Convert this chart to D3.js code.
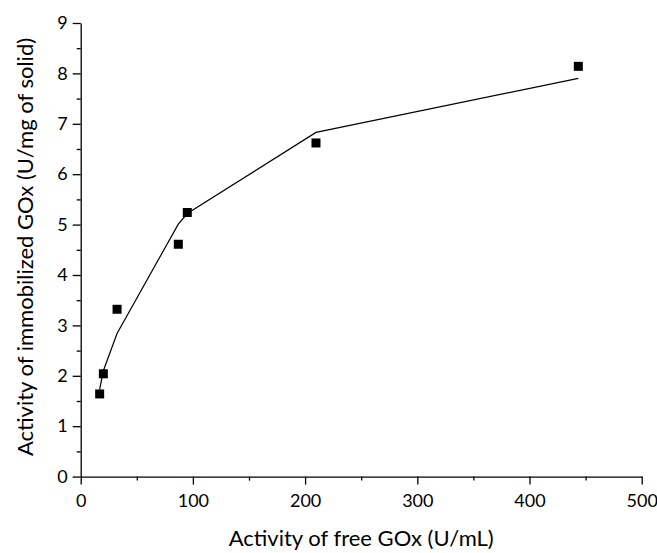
<!DOCTYPE html>
<html><head><meta charset="utf-8">
<script src="https://cdn.jsdelivr.net/npm/d3@7"></script>
<style>body{margin:0;background:#fff}svg{display:block}text{font-family:Lato,"Open Sans",sans-serif;fill:#000}</style>
</head><body><div id="chart"></div>
<script>
const freeActivity = [16.9, 20.2, 32.4, 87, 95, 209.7, 443.5];
const immobilizedActivity = [1.64, 2.04, 3.32, 4.61, 5.24, 6.62, 8.14];
const fitValues = [1.73, 2.10, 2.84, 5.01, 5.22, 6.83, 7.90];
const xTicks = [0, 100, 200, 300, 400, 500];
const yTicks = [0, 1, 2, 3, 4, 5, 6, 7, 8, 9];
const xTitle = "Activity of free GOx (U/mL)";
const yTitle = "Activity of immobilized GOx (U/mg of solid)";

const W = 657, H = 553;
const m = {left: 80.7, right: 15.3, top: 23, bottom: 76.4};
const svg = d3.select("#chart").append("svg").attr("width", W).attr("height", H);
const x = d3.scaleLinear().domain([0, 500]).range([m.left, W - m.right]);
const y = d3.scaleLinear().domain([0, 9]).range([H - m.bottom, m.top]);

// minor ticks
const gx = svg.append("g").attr("transform", `translate(0,${y(0)})`);
gx.call(d3.axisBottom(x).tickValues(d3.range(50, 500, 100)).tickSize(4).tickFormat(""));
gx.call(g => g.selectAll(".domain").remove());
const gx2 = svg.append("g").attr("transform", `translate(0,${y(0)})`)
  .call(d3.axisBottom(x).tickValues(xTicks).tickSize(8).tickPadding(10).tickSizeOuter(0));
const gy = svg.append("g").attr("transform", `translate(${x(0)},0)`);
gy.call(d3.axisLeft(y).tickValues(d3.range(0.5, 9, 1)).tickSize(4).tickFormat(""));
gy.call(g => g.selectAll(".domain").remove());
const gy2 = svg.append("g").attr("transform", `translate(${x(0)},0)`)
  .call(d3.axisLeft(y).tickValues(yTicks).tickSize(8).tickPadding(5).tickSizeOuter(0));
svg.selectAll(".domain, .tick line").attr("stroke", "#000").attr("stroke-width", 1.3);
svg.selectAll(".tick text").attr("font-size", 18).attr("font-family", "'Open Sans'");

const pts = freeActivity.map((d, i) => ({x: d, y: immobilizedActivity[i], f: fitValues[i]}));
svg.append("path").datum(pts)
  .attr("d", d3.line().x(d => x(d.x)).y(d => y(d.f)))
  .attr("fill", "none").attr("stroke", "#000").attr("stroke-width", 1.2);
svg.selectAll("rect.pt").data(pts).enter().append("rect").attr("class", "pt")
  .attr("x", d => x(d.x) - 4.5).attr("y", d => y(d.y) - 4.5)
  .attr("width", 9).attr("height", 9).attr("fill", "#000");

svg.append("text").attr("x", (x(0) + x(500)) / 2).attr("y", 546)
  .attr("text-anchor", "middle").attr("font-size", 22).text(xTitle);
svg.append("text").attr("transform", `translate(33,247) rotate(-90)`)
  .attr("text-anchor", "middle").attr("font-size", 22).text(yTitle);
</script></body></html>
